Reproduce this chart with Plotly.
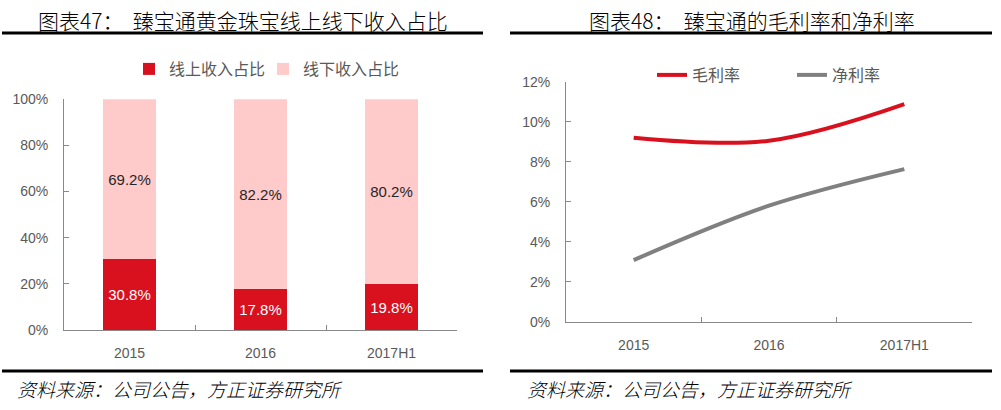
import plotly.graph_objects as go

# ---- data ----
bar_categories = ["2015", "2016", "2017H1"]
online_share = [30.8, 17.8, 19.8]
offline_share = [69.2, 82.2, 80.2]
bar_yticks = [0, 20, 40, 60, 80, 100]

line_categories = ["2015", "2016", "2017H1"]
gross_margin = [9.2, 9.05, 10.88]
net_margin = [3.08, 5.8, 7.63]
line_yticks = [0, 2, 4, 6, 8, 10, 12]

title_left = "图表47：  臻宝通黄金珠宝线上线下收入占比"
title_right = "图表48：  臻宝通的毛利率和净利率"
source_text = "资料来源：公司公告，方正证券研究所"

W, H = 1001, 410
def px(x): return x / W
def py(y): return 1 - y / H

RED = "#d9101e"
PINK = "#ffcaca"
GRAY_LINE = "#808080"
AXIS = "#898989"
TICK_FONT = dict(family="Liberation Sans, Arial", size=14, color="#595959")
LEG_FONT = dict(family="Noto Sans CJK SC", size=16, color="#595959")

fig = go.Figure()

fig.add_trace(go.Bar(
    x=bar_categories, y=online_share, name="线上收入占比",
    marker=dict(color=RED, line=dict(width=0)),
    text=[f"{v:.1f}%" for v in online_share], textposition="inside",
    insidetextanchor="middle",
    textfont=dict(family="Liberation Sans, Arial", size=15, color="white"),
    width=0.4, xaxis="x", yaxis="y", legend="legend",
))
fig.add_trace(go.Bar(
    x=bar_categories, y=offline_share, name="线下收入占比",
    marker=dict(color=PINK, line=dict(width=0)),
    text=[f"{v:.1f}%" for v in offline_share], textposition="inside",
    insidetextanchor="middle",
    textfont=dict(family="Liberation Sans, Arial", size=15, color="#262626"),
    width=0.4, xaxis="x", yaxis="y", legend="legend3",
))

fig.add_trace(go.Scatter(
    x=line_categories, y=gross_margin, name="毛利率", mode="lines",
    line=dict(color=RED, width=4, shape="spline", smoothing=1.0),
    xaxis="x2", yaxis="y2", legend="legend2",
))
fig.add_trace(go.Scatter(
    x=line_categories, y=net_margin, name="净利率", mode="lines",
    line=dict(color=GRAY_LINE, width=4, shape="spline", smoothing=1.0),
    xaxis="x2", yaxis="y2", legend="legend2",
))

axis_common = dict(showgrid=False, zeroline=False, showline=True, linecolor=AXIS,
                   linewidth=1, ticks="inside", ticklen=5, tickcolor=AXIS,
                   tickfont=TICK_FONT, fixedrange=True, automargin=False)

fig.update_layout(
    width=W, height=H, margin=dict(l=0, r=0, t=0, b=0, autoexpand=False),
    paper_bgcolor="white", plot_bgcolor="white",
    barmode="stack", showlegend=True,
    font=dict(family="Noto Sans CJK SC"),
    xaxis=dict(domain=[px(64), px(457)], anchor="y", type="category",
               range=[-0.5, 2.5], tickson="boundaries", ticklabelstandoff=10,
               **axis_common),
    yaxis=dict(domain=[py(330), py(99.3)], anchor="x", range=[0, 100],
               tickvals=bar_yticks, ticktext=[f"{v}%" for v in bar_yticks],
               ticklabelstandoff=12, **axis_common),
    xaxis2=dict(domain=[px(566), px(972)], anchor="y2", type="category",
                range=[-0.5, 2.5], tickson="boundaries", ticklabelstandoff=10,
                **axis_common),
    yaxis2=dict(domain=[py(321.7), py(81.7)], anchor="x2", range=[0, 12],
                tickvals=line_yticks, ticktext=[f"{v}%" for v in line_yticks],
                ticklabelstandoff=12, **axis_common),
    legend=dict(orientation="h", x=px(129), xanchor="left", y=py(69), yanchor="middle",
                font=LEG_FONT, bgcolor="rgba(0,0,0,0)", itemwidth=30),
    legend3=dict(orientation="h", x=px(263), xanchor="left", y=py(69), yanchor="middle",
                 font=LEG_FONT, bgcolor="rgba(0,0,0,0)", itemwidth=30),
    legend2=dict(orientation="h", x=px(792), xanchor="center", y=py(75), yanchor="middle",
                 font=LEG_FONT, bgcolor="rgba(0,0,0,0)", traceorder="normal",
                 entrywidth=95),
)

# panel decorations
for x0, x1 in [(2, 483), (510, 992)]:
    for yy in (33, 371):
        fig.add_shape(type="line", xref="paper", yref="paper",
                      x0=px(x0), x1=px(x1), y0=py(yy), y1=py(yy),
                      line=dict(color="black", width=3))

fig.add_annotation(text=title_left, xref="paper", yref="paper", x=px(243), y=py(20),
                   xanchor="center", yanchor="middle", showarrow=False,
                   font=dict(family="Noto Sans CJK SC", size=21, color="black", weight=300))
fig.add_annotation(text=title_right, xref="paper", yref="paper", x=px(752), y=py(20),
                   xanchor="center", yanchor="middle", showarrow=False,
                   font=dict(family="Noto Sans CJK SC", size=21, color="black", weight=300))
for xs in (15, 525):
    fig.add_annotation(text=f"<i>{source_text}</i>", xref="paper", yref="paper",
                       x=px(xs), y=py(388), xanchor="left", yanchor="middle",
                       showarrow=False,
                       font=dict(family="Noto Sans CJK SC", size=19, color="black", weight=300))

fig.write_html("out.html", config={"displayModeBar": False},
               post_script="document.body.style.margin='0';document.body.style.overflow='hidden';")
